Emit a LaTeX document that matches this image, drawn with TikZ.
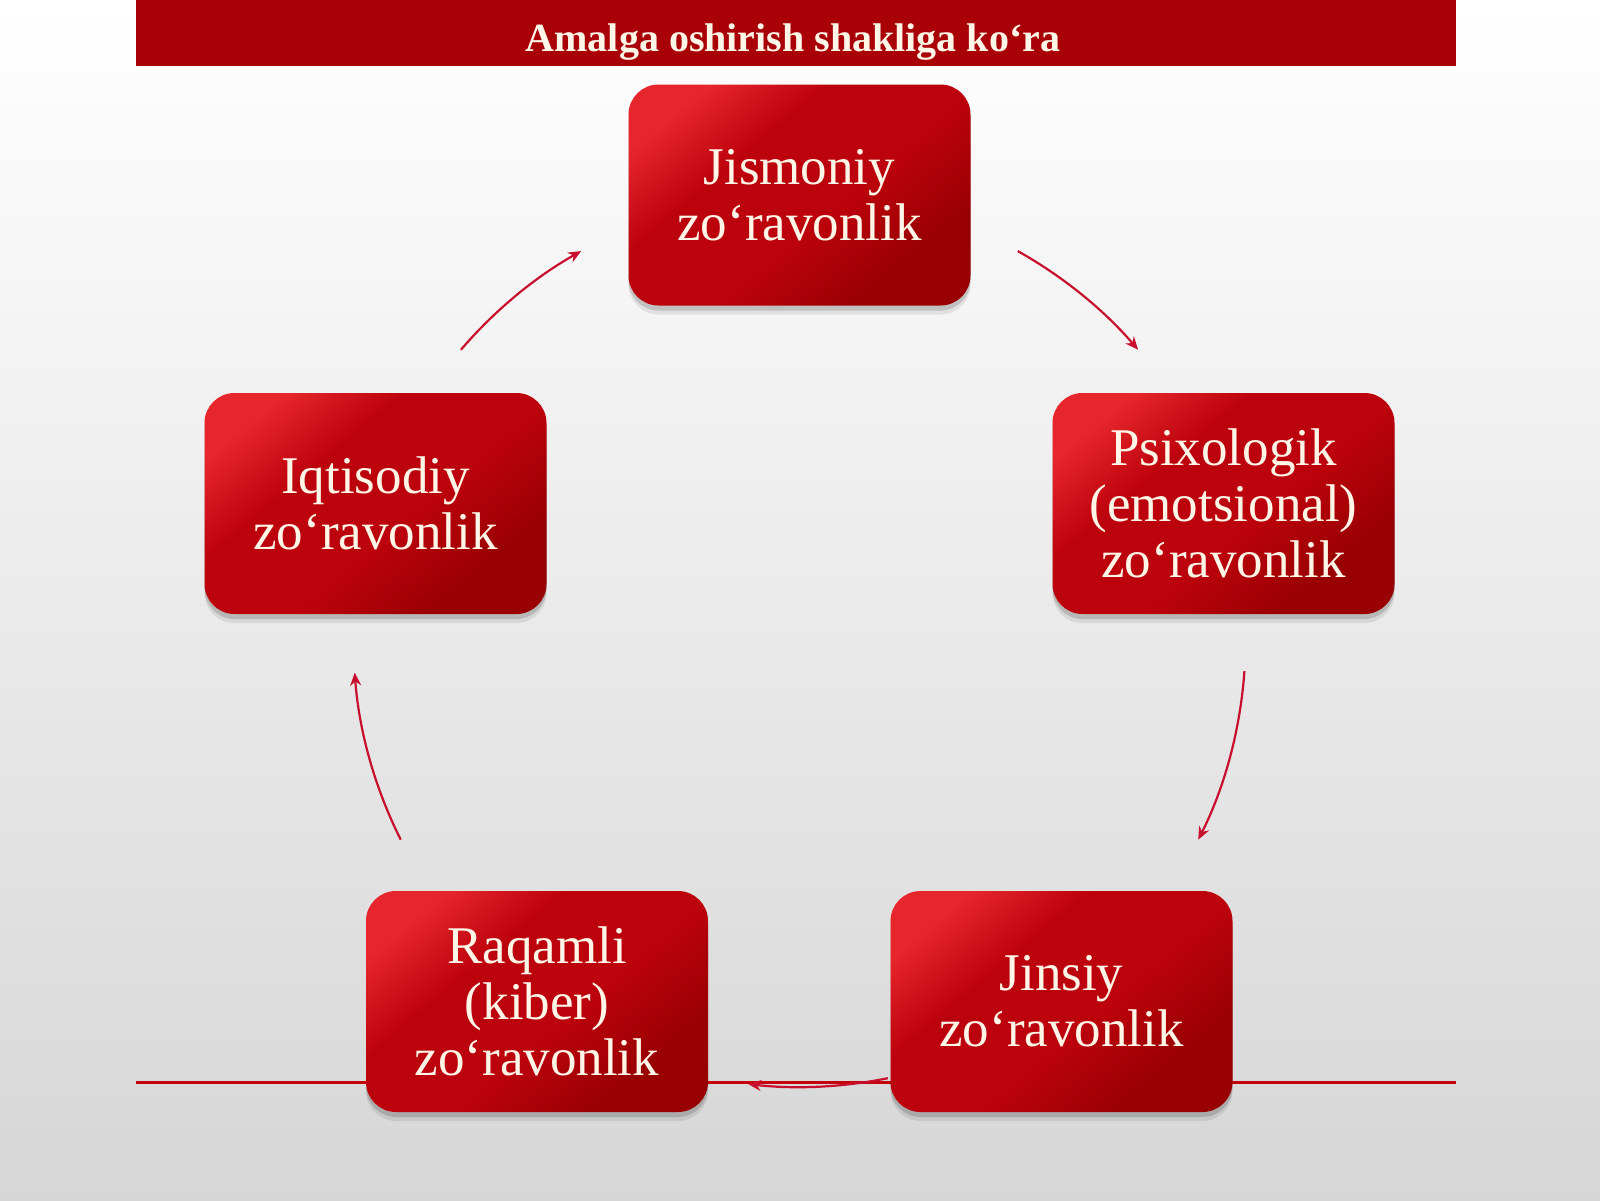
\documentclass[tikz,border=0pt]{standalone}
\usepackage{fontspec}
\setmainfont{Liberation Serif}
\usetikzlibrary{shadows,arrows.meta,calc}
\definecolor{barred}{RGB}{168,0,6}
\definecolor{boxlight}{RGB}{230,38,44}
\definecolor{boxmid}{RGB}{188,2,12}
\definecolor{boxdark}{RGB}{152,0,2}
\definecolor{arrred}{RGB}{200,16,46}
\definecolor{linered}{RGB}{196,4,10}
\definecolor{txtcream}{RGB}{255,246,232}
\definecolor{bgbottom}{RGB}{214,214,214}
\pgfdeclareverticalshading{boxgrad}{100bp}{%
  color(0bp)=(boxdark); color(28bp)=(boxdark); color(44bp)=(boxmid);
  color(62bp)=(boxmid); color(76bp)=(boxlight); color(100bp)=(boxlight)}
\begin{document}
\begin{tikzpicture}[x=1pt,y=1pt,
  catbox/.style={rounded corners=30pt, minimum width=342pt, minimum height=221pt,
    inner sep=0pt, align=center, text=txtcream, font=\fontsize{53}{56}\selectfont,
    shade, shading=boxgrad, shading angle=40,
    general shadow={shadow xshift=0pt, shadow yshift=-9pt, opacity=0.08, fill=black},
    general shadow={shadow xshift=0pt, shadow yshift=-5pt, opacity=0.14, fill=black}},
  cyc/.style={draw=arrred, line width=2.2pt, -{Stealth[length=13pt,width=11pt]}}]
\useasboundingbox (0,0) rectangle (1600,-1200);
\shade[top color=white, bottom color=bgbottom] (0,0) rectangle (1600,-1200);
% title bar
\fill[barred] (136,0) rectangle (1456,-66);
\node[anchor=base, text=txtcream, font=\bfseries\fontsize{40}{40}\selectfont] (title) at (793,-51) {Amalga oshirish shakliga ko‘ra};
% bottom line
\coordinate (lineL) at (136,-1082);
\coordinate (lineR) at (1456,-1082);
\draw[linered, line width=3pt] (lineL) -- (lineR);
% cycle arrows
\coordinate (ctr) at (799.5,-640);
\path (ctr) ++(60.7:446pt) coordinate (a1s);
\path (ctr) ++(-4:446pt) coordinate (a2s);
\path (ctr) ++(-78.6:447pt) coordinate (a3s);
\path (ctr) ++(-153.4:446pt) coordinate (a4s);
\path (ctr) ++(139.4:446pt) coordinate (a5s);
\draw[cyc] (a1s) arc[start angle=60.7, end angle=40.6, radius=446pt];
\draw[cyc] (a2s) arc[start angle=-4, end angle=-26.6, radius=446pt];
\draw[cyc] (a3s) arc[start angle=-78.6, end angle=-96.6, radius=447pt];
\draw[cyc] (a4s) arc[start angle=-153.4, end angle=-175.8, radius=446pt];
\draw[cyc] (a5s) arc[start angle=139.4, end angle=119.3, radius=446pt];
% boxes
\node[catbox] (jis) at (799.5,-195) {Jismoniy\\zo‘ravonlik};
\node[catbox] (psi) at (1223.5,-503.5) {Psixologik\\(emotsional)\\zo‘ravonlik};
\node[catbox] (iqt) at (375.5,-503.5) {Iqtisodiy\\zo‘ravonlik};
\node[catbox] (raq) at (537,-1001.5) {Raqamli\\(kiber)\\zo‘ravonlik};
\node[catbox] (jin) at (1061.5,-1001.5) {Jinsiy\\zo‘ravonlik};
\end{tikzpicture}
\end{document}
